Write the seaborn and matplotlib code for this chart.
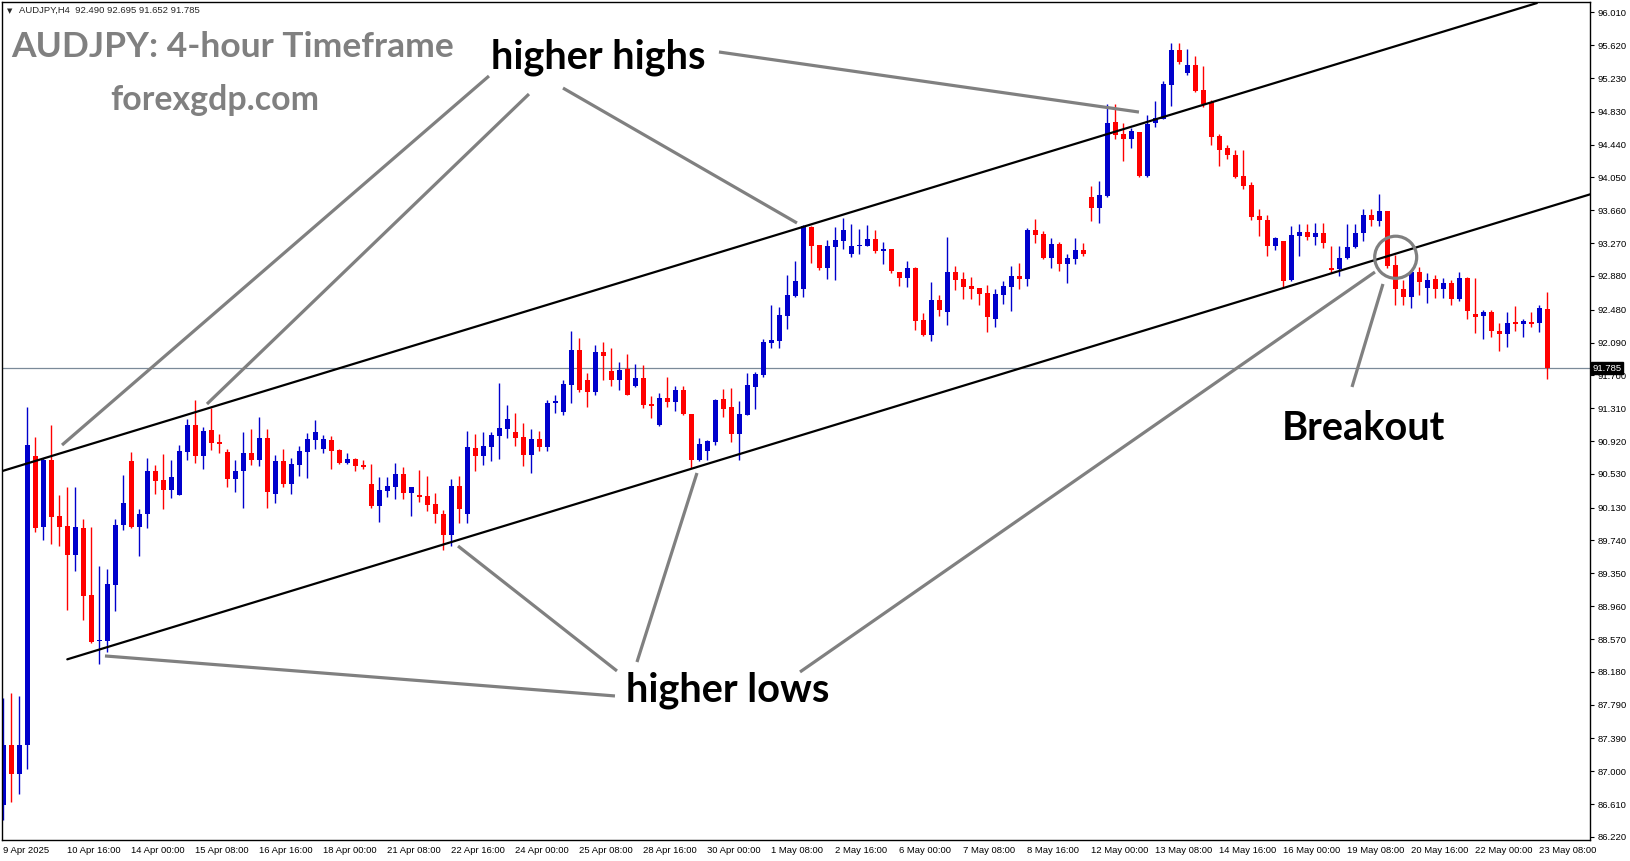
import matplotlib
matplotlib.use("Agg")
import matplotlib.pyplot as plt
import seaborn as sns
import numpy as np
import pandas as pd
from matplotlib.patches import Ellipse

# AUDJPY H4 candles, 9 Apr 2025 -> 23 May 2025
opens = [86.60, 87.31, 86.97, 87.31, 90.74, 89.90, 90.70, 90.03, 89.91, 89.57,
         89.89, 89.09, 88.55, 88.55, 89.21, 89.92, 90.68, 89.90, 90.05, 90.57,
         90.46, 90.34, 90.28, 90.79, 91.11, 90.74, 91.05, 90.91, 90.79, 90.47,
         90.56, 90.78, 90.70, 90.96, 90.29, 90.68, 90.41, 90.64, 90.79, 90.93,
         90.83, 90.93, 90.81, 90.66, 90.71, 90.64, 90.41, 90.15, 90.33, 90.38,
         90.53, 90.30, 90.28, 90.27, 90.17, 90.05, 89.80, 90.39, 90.05, 90.84,
         90.74, 90.85, 90.98, 91.06, 91.03, 90.97, 90.75, 90.94, 90.85, 91.37,
         91.27, 91.59, 92.00, 91.65, 91.50, 91.98, 91.75, 91.65, 91.77, 91.57,
         91.67, 91.36, 91.11, 91.43, 91.38, 91.53, 91.24, 90.70, 90.80, 90.91,
         91.42, 91.33, 91.00, 91.23, 91.56, 91.70, 92.09, 92.11, 92.41, 92.64,
         92.73, 93.46, 93.25, 92.98, 93.22, 93.30, 93.14, 93.23, 93.24, 93.32,
         93.18, 93.20, 92.93, 92.86, 92.98, 92.36, 92.18, 92.60, 92.45, 92.93,
         92.84, 92.76, 92.74, 92.68, 92.37, 92.65, 92.75, 92.88, 92.84, 93.43,
         93.38, 93.09, 93.26, 93.02, 93.08, 93.19, 93.82, 93.69, 93.83, 94.71,
         94.56, 94.51, 94.59, 94.07, 94.70, 94.74, 95.15, 95.56, 95.29, 95.38,
         95.09, 94.95, 94.54, 94.40, 94.32, 94.07, 93.96, 93.59, 93.54, 93.24,
         93.30, 92.83, 93.36, 93.40, 93.34, 93.39, 92.97, 92.96, 93.09, 93.22,
         93.39, 93.60, 93.53, 93.65, 93.01, 92.73, 92.63, 92.93, 92.74, 92.84,
         92.73, 92.80, 92.61, 92.86, 92.43, 92.40, 92.45, 92.23, 92.19, 92.33,
         92.31, 92.33, 92.32, 92.49]
highs = [87.87, 87.93, 87.89, 91.33, 90.97, 90.72, 91.11, 90.28, 90.37, 90.38,
         90.00, 89.90, 89.44, 89.40, 90.00, 90.52, 90.79, 90.11, 90.72, 90.64,
         90.77, 90.70, 90.87, 91.18, 91.41, 91.09, 91.31, 91.00, 90.83, 90.69,
         91.03, 91.06, 91.21, 91.06, 90.75, 90.83, 90.72, 90.86, 91.02, 91.17,
         90.99, 90.98, 90.83, 90.78, 90.72, 90.70, 90.65, 90.49, 90.49, 90.66,
         90.61, 90.37, 90.58, 90.51, 90.30, 90.10, 90.47, 90.51, 91.04, 91.00,
         91.03, 91.03, 91.61, 91.35, 91.25, 91.13, 91.06, 91.04, 91.41, 91.47,
         91.65, 92.23, 92.14, 91.73, 92.06, 92.10, 92.03, 91.86, 91.95, 91.83,
         91.82, 91.46, 91.49, 91.68, 91.57, 91.57, 91.24, 90.96, 90.93, 91.42,
         91.54, 91.55, 91.40, 91.73, 91.74, 92.13, 92.54, 92.51, 92.89, 93.06,
         93.49, 93.47, 93.25, 93.31, 93.46, 93.57, 93.50, 93.44, 93.49, 93.43,
         93.28, 93.20, 92.93, 93.06, 92.99, 92.44, 92.81, 92.65, 93.34, 93.00,
         92.93, 92.87, 92.74, 92.77, 92.72, 92.82, 93.00, 93.03, 93.45, 93.56,
         93.41, 93.33, 93.28, 93.14, 93.33, 93.27, 93.95, 94.01, 94.92, 94.92,
         94.70, 94.64, 94.59, 94.79, 94.96, 95.19, 95.65, 95.65, 95.57, 95.49,
         95.37, 94.97, 94.57, 94.43, 94.38, 94.38, 94.00, 93.68, 93.60, 93.34,
         93.30, 93.47, 93.50, 93.50, 93.51, 93.51, 93.24, 93.23, 93.50, 93.50,
         93.68, 93.67, 93.85, 93.65, 93.13, 92.83, 92.93, 92.99, 92.91, 92.89,
         92.86, 92.83, 92.93, 92.87, 92.86, 92.48, 92.48, 92.32, 92.45, 92.52,
         92.37, 92.45, 92.53, 92.695]
lows = [86.42, 86.64, 86.73, 87.03, 89.84, 89.75, 89.70, 89.67, 88.91, 89.38,
        88.79, 88.52, 88.27, 88.42, 88.90, 89.86, 89.89, 89.56, 89.89, 90.29,
        90.11, 90.25, 90.28, 90.70, 90.66, 90.59, 90.81, 90.78, 90.38, 90.31,
        90.13, 90.64, 90.62, 90.13, 90.19, 90.38, 90.29, 90.51, 90.48, 90.83,
        90.78, 90.59, 90.65, 90.65, 90.57, 90.59, 90.13, 89.96, 90.26, 90.23,
        90.23, 90.03, 90.20, 90.09, 89.95, 89.63, 89.67, 89.95, 89.95, 90.57,
        90.64, 90.68, 90.71, 90.96, 90.86, 90.62, 90.54, 90.80, 90.80, 91.25,
        91.23, 91.37, 91.50, 91.32, 91.47, 91.65, 91.57, 91.53, 91.47, 91.56,
        91.31, 91.19, 91.10, 91.32, 91.28, 91.23, 90.60, 90.68, 90.70, 90.87,
        91.21, 90.91, 90.69, 91.23, 91.30, 91.68, 92.03, 92.03, 92.25, 92.63,
        92.63, 93.03, 92.95, 92.84, 92.83, 93.20, 93.11, 93.14, 93.24, 93.15,
        93.02, 92.92, 92.76, 92.75, 92.24, 92.17, 92.11, 92.41, 92.30, 92.71,
        92.61, 92.61, 92.54, 92.22, 92.27, 92.55, 92.46, 92.73, 92.76, 93.27,
        93.08, 92.98, 92.94, 92.80, 93.02, 93.12, 93.53, 93.51, 93.82, 94.51,
        94.25, 94.40, 94.06, 94.06, 94.65, 94.74, 94.90, 95.40, 95.27, 95.06,
        94.89, 94.43, 94.18, 94.27, 94.04, 93.91, 93.54, 93.35, 93.12, 93.19,
        92.75, 92.82, 93.12, 93.31, 93.25, 93.21, 92.91, 92.88, 93.08, 93.21,
        93.30, 93.47, 93.47, 92.97, 92.53, 92.53, 92.50, 92.65, 92.56, 92.62,
        92.62, 92.53, 92.58, 92.37, 92.20, 92.13, 92.15, 91.99, 92.04, 92.23,
        92.16, 92.27, 92.21, 91.652]
closes = [87.31, 86.97, 87.31, 90.87, 89.89, 90.70, 90.02, 89.90, 89.57, 89.90,
          89.08, 88.53, 88.56, 89.22, 89.92, 90.19, 89.90, 90.06, 90.57, 90.45,
          90.34, 90.49, 90.80, 91.11, 90.74, 91.04, 90.90, 90.89, 90.47, 90.57,
          90.78, 90.70, 90.96, 90.32, 90.68, 90.41, 90.65, 90.80, 90.94, 91.03,
          90.94, 90.80, 90.66, 90.71, 90.62, 90.61, 90.15, 90.34, 90.39, 90.53,
          90.30, 90.37, 90.26, 90.16, 90.05, 89.80, 90.39, 90.11, 90.85, 90.74,
          90.86, 90.99, 91.08, 91.18, 90.96, 90.75, 90.94, 90.85, 91.37, 91.40,
          91.60, 92.00, 91.53, 91.50, 91.98, 91.93, 91.65, 91.76, 91.47, 91.67,
          91.35, 91.34, 91.43, 91.38, 91.53, 91.24, 90.70, 90.89, 90.92, 91.41,
          91.30, 91.00, 91.24, 91.59, 91.72, 92.10, 92.12, 92.42, 92.65, 92.82,
          93.47, 93.24, 92.98, 93.24, 93.31, 93.43, 93.24, 93.25, 93.32, 93.18,
          93.20, 92.94, 92.86, 92.98, 92.35, 92.18, 92.60, 92.48, 92.93, 92.83,
          92.75, 92.73, 92.67, 92.39, 92.67, 92.76, 92.88, 92.84, 93.43, 93.37,
          93.09, 93.26, 93.02, 93.09, 93.19, 93.14, 93.69, 93.84, 94.70, 94.55,
          94.51, 94.60, 94.07, 94.69, 94.75, 95.16, 95.56, 95.42, 95.38, 95.08,
          94.92, 94.53, 94.38, 94.32, 94.06, 93.95, 93.58, 93.54, 93.24, 93.33,
          92.82, 93.37, 93.40, 93.34, 93.39, 93.27, 92.95, 93.09, 93.22, 93.39,
          93.60, 93.54, 93.65, 93.00, 92.73, 92.63, 92.93, 92.81, 92.83, 92.73,
          92.80, 92.61, 92.86, 92.47, 92.39, 92.45, 92.23, 92.19, 92.32, 92.31,
          92.34, 92.31, 92.50, 91.785]

time_labels = ["9 Apr 2025", "10 Apr 16:00", "14 Apr 00:00", "15 Apr 08:00",
               "16 Apr 16:00", "18 Apr 00:00", "21 Apr 08:00", "22 Apr 16:00",
               "24 Apr 00:00", "25 Apr 08:00", "28 Apr 16:00", "30 Apr 00:00",
               "1 May 08:00", "2 May 16:00", "6 May 00:00", "7 May 08:00",
               "8 May 16:00", "12 May 00:00", "13 May 08:00", "14 May 16:00",
               "16 May 00:00", "19 May 08:00", "20 May 16:00", "22 May 00:00",
               "23 May 08:00"]
price_ticks = [96.010, 95.620, 95.230, 94.830, 94.440, 94.050, 93.660, 93.270,
               92.880, 92.480, 92.090, 91.700, 91.310, 90.920, 90.530, 90.130,
               89.740, 89.350, 88.960, 88.570, 88.180, 87.790, 87.390, 87.000,
               86.610, 86.220]
last_price = 91.785

# channel trendlines (bar index, price)
upper_channel = ([-0.41, 191.7], [90.556, 96.12])
lower_channel = ([8.0, 199.0], [88.329, 93.868])

# grey pointer lines (bar index, price)
pointers = [
    ([60.71, 7.34], [95.254, 90.873]),
    ([65.71, 25.46], [95.040, 91.360]),
    ([69.96, 99.21], [95.111, 93.509]),
    ([89.46, 141.96], [95.539, 94.826]),
    ([76.46, 12.71], [87.894, 88.369]),
    ([76.71, 56.84], [88.191, 89.674]),
    ([79.21, 86.71], [88.297, 90.541]),
    ([99.59, 171.46], [88.179, 92.927]),
    ([168.59, 172.46], [91.562, 92.785]),
]

sns.set_style("white")
plt.rcParams["font.family"] = ["Liberation Sans", "DejaVu Sans"]

df = pd.DataFrame({"open": opens, "high": highs, "low": lows, "close": closes})
df["bar"] = np.arange(len(df))
df["up"] = df["close"] >= df["open"]
df["color"] = np.where(df["up"], "#0000cc", "#ff0000")
df["bottom"] = df[["open", "close"]].min(axis=1)
df["height"] = (df["close"] - df["open"]).abs().clip(lower=0.013)

W, H = 1631, 861
fig = plt.figure(figsize=(W / 100, H / 100), dpi=100)
ax = fig.add_axes([2.3 / W, 1 - 840 / H, (1590 - 2.3) / W, (840 - 2.3) / H])
ax.set_xlim(-0.125, 198.34)
ax.set_ylim(86.184, 96.129)

# current price line
ax.axhline(last_price, color="#7b8a99", lw=0.9, zorder=1)

# candles
ax.vlines(df["bar"], df["low"], df["high"], colors=df["color"], lw=1.0, zorder=2)
ax.bar(df["bar"], df["height"], bottom=df["bottom"], width=0.62,
       color=df["color"], linewidth=0, zorder=2)

# channel
for xs, ys in (upper_channel, lower_channel):
    sns.lineplot(x=xs, y=ys, color="black", lw=1.6, ax=ax, zorder=3)

for xs, ys in pointers:
    ax.plot(xs, ys, color="#808080", lw=2.3, solid_capstyle="butt", zorder=4)

ax.add_patch(Ellipse((174.05, 93.102), 5.25, 0.50, fill=False,
                     edgecolor="#808080", lw=2.3, zorder=4))

ann = dict(family=["Lato", "DejaVu Sans"], weight="bold", fontsize=28.6,
           color="black", ha="center", va="baseline", zorder=5)
ax.text(74.43, 95.349, "higher highs", **ann)
ax.text(90.59, 87.826, "higher lows", **ann)
ax.text(170.0, 90.933, "Breakout", **ann)

# watermark labels
fig.text(11.7 / W, 1 - 56.7 / H, "AUDJPY: 4-hour Timeframe", family=["Lato", "DejaVu Sans"],
         weight="bold", fontsize=25.5, color="#808080", ha="left", va="baseline")
fig.text(215 / W, 1 - 110 / H, "forexgdp.com", family=["Lato", "DejaVu Sans"],
         weight="bold", fontsize=24.4, color="#808080", ha="center", va="baseline")

# header
fig.text(9.5 / W, 1 - 10.7 / H, "▼", family="DejaVu Sans", fontsize=5,
         ha="center", va="center")
fig.text(18.7 / W, 1 - 10.7 / H, "AUDJPY,H4  92.490 92.695 91.652 91.785",
         fontsize=6.8, ha="left", va="center")

# axes
ax.yaxis.tick_right()
ax.set_yticks(price_ticks)
ax.set_yticklabels([f"{p:.3f}" for p in price_ticks])
ax.set_xticks(np.arange(len(time_labels)) * 8)
ax.set_xticklabels(time_labels, ha="left")
ax.tick_params(axis="both", direction="out", length=3, width=0.8, colors="black",
               labelsize=6.8)
ax.tick_params(axis="y", pad=2.5)
ax.tick_params(axis="x", pad=1.5)
for s in ax.spines.values():
    s.set_color("black")
    s.set_linewidth(1.0)
ax.set_xlabel("")
ax.set_ylabel("")

ax.text(1.0015, last_price, "91.785", transform=ax.get_yaxis_transform(),
        fontsize=6.8, color="white", ha="left", va="center", clip_on=False, zorder=6,
        bbox=dict(boxstyle="square,pad=0.15", facecolor="black", edgecolor="black"))

fig.savefig("out.png", dpi=100, facecolor="white")
